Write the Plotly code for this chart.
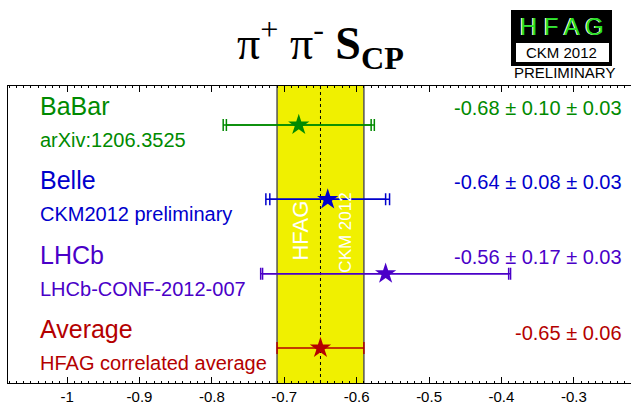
import plotly.graph_objects as go

# ---- data ----
names = ["BaBar", "Belle", "LHCb", "Average"]
refs = ["arXiv:1206.3525", "CKM2012 preliminary", "LHCb-CONF-2012-007", "HFAG correlated average"]
values = [-0.68, -0.64, -0.56, -0.65]
stat_err = [0.10, 0.08, 0.17, 0.06]
syst_err = [0.03, 0.03, 0.03, None]
value_labels = ["-0.68 \u00b1 0.10 \u00b1 0.03", "-0.64 \u00b1 0.08 \u00b1 0.03",
                "-0.56 \u00b1 0.17 \u00b1 0.03", "-0.65 \u00b1 0.06"]
colors = ["#008a00", "#0000cc", "#4a00c8", "#b40000"]
rows = [4, 3, 2, 1]
avg_value = -0.65
avg_err = 0.06
x_ticks = [-1.0, -0.9, -0.8, -0.7, -0.6, -0.5, -0.4, -0.3]
x_tick_labels = ["-1", "-0.9", "-0.8", "-0.7", "-0.6", "-0.5", "-0.4", "-0.3"]

FONT = "Liberation Sans, Arial"
fig = go.Figure()

# yellow average band
fig.add_shape(type="rect", xref="x", yref="paper", x0=avg_value - avg_err, x1=avg_value + avg_err,
              y0=0, y1=1, fillcolor="#f0f000", line=dict(width=0), layer="below")
for xe in [avg_value - avg_err, avg_value + avg_err]:
    fig.add_shape(type="line", xref="x", yref="paper", x0=xe, x1=xe, y0=0, y1=1,
                  line=dict(color="#555555", width=1.5), layer="below")
fig.add_shape(type="line", xref="x", yref="paper", x0=avg_value, x1=avg_value, y0=0, y1=1,
              line=dict(color="black", width=1, dash="dot"), layer="below")

# band texts
fig.add_annotation(x=-0.677, y=2.58, xref="x", yref="y", text="HFAG", textangle=-90,
                   showarrow=False, font=dict(family=FONT, size=22, color="white"))
fig.add_annotation(x=-0.615, y=2.55, xref="x", yref="y", text="CKM 2012", textangle=-90,
                   showarrow=False, font=dict(family=FONT, size=17, color="white"))

for i in range(len(names)):
    c = colors[i]
    if syst_err[i] is not None:
        tot = (stat_err[i] ** 2 + syst_err[i] ** 2) ** 0.5
        fig.add_trace(go.Scatter(x=[values[i]], y=[rows[i]], mode="markers",
                                 marker=dict(size=1, color=c, opacity=0),
                                 error_x=dict(type="data", array=[tot], color=c, thickness=1.5, width=6),
                                 showlegend=False, hoverinfo="skip"))
    fig.add_trace(go.Scatter(x=[values[i]], y=[rows[i]], mode="markers",
                             marker=dict(symbol="star", size=16, color=c, line=dict(width=0)),
                             error_x=dict(type="data", array=[stat_err[i]], color=c, thickness=1.5, width=6),
                             showlegend=False))
    # name, reference, value
    fig.add_annotation(x=-1.040, y=rows[i], xref="x", yref="y", text=names[i], xanchor="left",
                       yshift=19, showarrow=False,
                       font=dict(family=FONT, size=25, color=c))
    fig.add_annotation(x=-1.040, y=rows[i], xref="x", yref="y", text=refs[i], xanchor="left",
                       yshift=-15, showarrow=False,
                       font=dict(family=FONT, size=20, color=c))
    fig.add_annotation(x=-0.2313, y=rows[i], xref="x", yref="y", text=value_labels[i], xanchor="right",
                       yshift=17 if syst_err[i] is not None else 15, showarrow=False,
                       font=dict(family=FONT, size=20, color=c))


def px(x):
    return (x - 8) / 623


def py(y):
    return (383 - y) / 297


# title
fig.add_annotation(x=px(320), y=py(44), xref="paper", yref="paper", xanchor="center", yanchor="middle",
                   text="\u03c0<sup>+</sup> \u03c0<sup>-</sup> <b>S<sub>CP</sub></b>",
                   showarrow=False, font=dict(family="Liberation Serif, Times New Roman", size=46, color="black"))

# HFAG logo
fig.add_shape(type="rect", xref="paper", yref="paper", x0=px(511), x1=px(612), y0=py(66), y1=py(10),
              fillcolor="black", line=dict(width=0))
fig.add_shape(type="rect", xref="paper", yref="paper", x0=px(516), x1=px(609), y0=py(62), y1=py(43),
              fillcolor="white", line=dict(width=0))
fig.add_annotation(x=px(561), y=py(26), xref="paper", yref="paper", xanchor="center", yanchor="middle",
                   text="H F A G", showarrow=False,
                   font=dict(family=FONT, size=24, color="white"))
fig.add_annotation(x=px(562), y=py(26), xref="paper", yref="paper", xanchor="center", yanchor="middle",
                   text="H F A G", showarrow=False,
                   font=dict(family=FONT, size=24, color="#22dd22"))
fig.add_annotation(x=px(561), y=py(53), xref="paper", yref="paper", xanchor="center", yanchor="middle",
                   text="CKM 2012", showarrow=False,
                   font=dict(family=FONT, size=15, color="black"))
fig.add_annotation(x=px(564), y=py(72), xref="paper", yref="paper", xanchor="center", yanchor="middle",
                   text="PRELIMINARY", showarrow=False,
                   font=dict(family=FONT, size=15, color="black"))

fig.update_layout(
    width=631, height=405,
    margin=dict(l=8, r=0, t=86, b=22),
    plot_bgcolor="white", paper_bgcolor="white",
    xaxis=dict(range=[-1.0817, -0.221], tickvals=x_ticks, ticktext=x_tick_labels,
               showgrid=False, zeroline=False, showline=True, linecolor="black", linewidth=1,
               mirror="ticks", ticks="inside", ticklen=6, tickcolor="black",
               minor=dict(dtick=0.01, tick0=0, ticks="inside", ticklen=2, tickcolor="black"),
               tickfont=dict(family=FONT, size=15, color="black")),
    yaxis=dict(range=[0.53, 4.525], showgrid=False, zeroline=False, showticklabels=False,
               showline=True, linecolor="black", linewidth=1, ticks=""),
)

fig.write_html("out.html")
